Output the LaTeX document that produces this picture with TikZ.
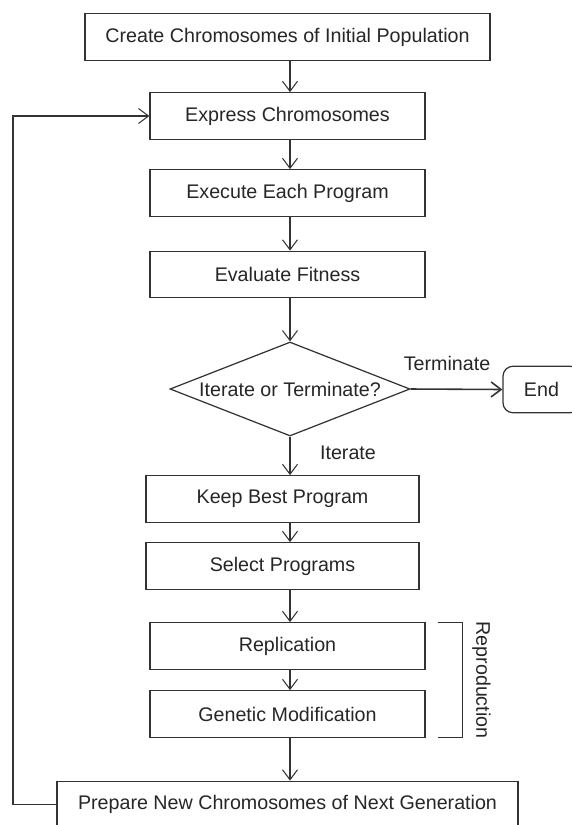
\documentclass[tikz,border=0pt]{standalone}
\usepackage{fontspec}
\setmainfont{Liberation Sans}
\usetikzlibrary{shapes.geometric,arrows.meta}
\begin{document}
\begin{tikzpicture}[every node/.style={font=\fontsize{11.2}{13}\selectfont, text=black!85},
  box/.style={draw=black!80,line width=0.7pt,minimum height=0.93cm,inner sep=0pt,align=center},
  arr/.style={draw=black!80,line width=0.6pt,-{Straight Barb[length=0.2cm,width=0.3cm]}}]
\useasboundingbox (0,0) rectangle (11.44,-16.5);
% main chain
\node[box,minimum width=8.1cm] (create) at (5.75,-0.74) {Create Chromosomes of Initial Population};
\node[box,minimum width=5.5cm] (express) at (5.75,-2.32) {Express Chromosomes};
\node[box,minimum width=5.5cm] (execute) at (5.75,-3.86) {Execute Each Program};
\node[box,minimum width=5.5cm] (evaluate) at (5.75,-5.49) {Evaluate Fitness};
\node[draw=black!80,line width=0.7pt,diamond,aspect=2.55,inner sep=0pt,minimum width=4.8cm,minimum height=1.88cm] (dia) at (5.8,-7.78) {Iterate or Terminate?};
\node[box,rounded corners=0.2cm,minimum width=1.54cm] (finish) at (10.83,-7.79) {End};
\node[box,minimum width=5.46cm] (keep) at (5.65,-9.98) {Keep Best Program};
\node[box,minimum width=5.46cm] (select) at (5.65,-11.32) {Select Programs};
\node[box,minimum width=5.5cm] (repl) at (5.75,-12.92) {Replication};
\node[box,minimum width=5.5cm] (genmod) at (5.75,-14.28) {Genetic Modification};
\node[box,minimum width=9.22cm] (prep) at (5.75,-16.09) {Prepare New Chromosomes of Next Generation};
% connectors
\foreach \a/\b in {create/express,express/execute,execute/evaluate,evaluate/dia,dia/keep,keep/select,select/repl,repl/genmod,genmod/prep} {
  \draw[arr] (\a.south -| dia) -- (\b.north -| dia);
}
\draw[arr,line width=0.9pt] (dia.east) -- (finish.west);
\node (term) at (8.94,-7.26) {Terminate};
\node (iter) at (6.96,-9.06) {Iterate};
\draw[arr] (prep.west) -- (0.26,-16.09) |- (express.west);
% reproduction bracket
\draw[draw=black!80,line width=0.6pt] ([xshift=0.24cm]repl.north east) -- ++(0.5,0) |- ([xshift=0.24cm]genmod.south east);
\node[rotate=-90] (repro) at (9.63,-13.6) {Reproduction};
\end{tikzpicture}
\end{document}
